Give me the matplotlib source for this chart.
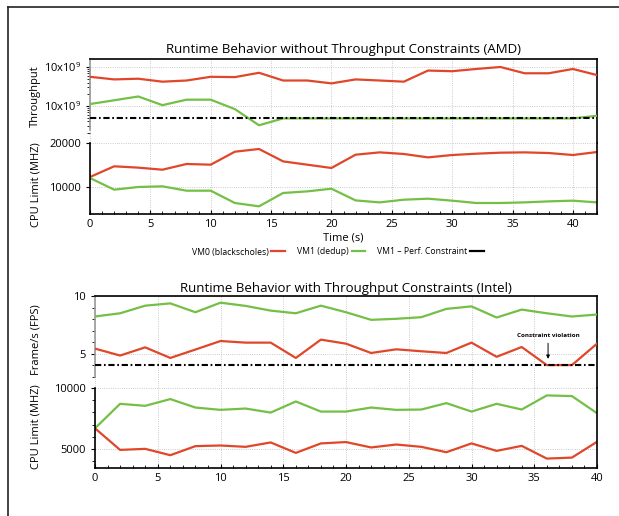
import numpy as np
import matplotlib
matplotlib.use("Agg")
import matplotlib.pyplot as plt
from matplotlib.lines import Line2D
from matplotlib.ticker import MultipleLocator, FixedLocator, LogLocator, NullFormatter

plt.rcParams['font.family'] = ['Open Sans', 'DejaVu Sans']
plt.rcParams['mathtext.fontset'] = 'custom'
plt.rcParams['mathtext.rm'] = 'Open Sans'

RED = '#e0472a'
GREEN = '#74bf45'

# ---------------- AMD data (every 2 s) ----------------
t_amd = list(range(0, 43, 2))
amd_tp_vm0 = [5.6e9, 4.8e9, 5.0e9, 4.2e9, 4.5e9, 5.6e9, 5.5e9, 7.1e9, 4.5e9, 4.5e9, 3.8e9,
              4.8e9, 4.5e9, 4.2e9, 8.1e9, 7.8e9, 8.9e9, 1.0e10, 6.9e9, 6.9e9, 8.9e9, 6.2e9]
amd_tp_vm1 = [1.12e9, 1.4e9, 1.75e9, 1.05e9, 1.45e9, 1.45e9, 8.3e8, 3.2e8, 4.8e8, 4.8e8, 4.8e8,
              4.8e8, 4.8e8, 4.8e8, 4.8e8, 4.8e8, 4.8e8, 4.8e8, 4.8e8, 4.8e8, 4.8e8, 5.6e8]
amd_tp_constraint = 4.8e8
amd_cpu_vm0 = [12270, 14700, 14400, 13930, 15230, 15070, 18020, 18640, 15820, 15070, 14320,
               17340, 17870, 17500, 16730, 17270, 17570, 17800, 17870, 17720, 17270, 17950]
amd_cpu_vm1 = [12040, 9390, 10000, 10150, 9160, 9160, 6360, 5600, 8640, 9000, 9610,
               6950, 6500, 7110, 7340, 6890, 6360, 6360, 6500, 6730, 6890, 6500]

# ---------------- Intel data (every 2 s) ----------------
t_intel = list(range(0, 41, 2))
intel_fps_vm0 = [5.43, 4.83, 5.54, 4.62, 5.35, 6.09, 5.95, 5.95, 4.62, 6.21, 5.86,
                 5.05, 5.37, 5.2, 5.05, 5.95, 4.72, 5.57, 4.0, 4.0, 5.86]
intel_fps_vm1 = [8.22, 8.5, 9.16, 9.36, 8.59, 9.42, 9.14, 8.73, 8.5, 9.16, 8.59,
                 7.93, 8.02, 8.16, 8.88, 9.1, 8.13, 8.82, 8.5, 8.22, 8.39]
intel_fps_constraint = 4.0
intel_cpu_vm0 = [6705, 4940, 5025, 4506, 5247, 5300, 5190, 5550, 4695, 5470, 5580,
                 5140, 5380, 5190, 4750, 5470, 4860, 5270, 4230, 4310, 5600]
intel_cpu_vm1 = [6705, 8707, 8542, 9094, 8402, 8213, 8320, 7990, 8900, 8073, 8073,
                 8402, 8213, 8240, 8764, 8073, 8707, 8240, 9394, 9340, 7940]

W, H = 619, 516
fig = plt.figure(figsize=(W / 100, H / 100), dpi=100)


def box(l, t, r, b):
    return [l / W, 1 - b / H, (r - l) / W, (b - t) / H]


def style(ax, top_panel):
    ax.grid(True, ls=':', lw=0.6, color='#bbbbbb')
    ax.tick_params(labelsize=8, length=3, width=0.8)
    ax.tick_params(axis='x', which='both', direction='in')
    ax.tick_params(axis='y', which='minor', length=2)
    for s in ['left', 'right', 'top', 'bottom']:
        ax.spines[s].set_linewidth(1.2)
    if top_panel:
        ax.spines['bottom'].set_visible(False)
        ax.tick_params(axis='x', which='both', bottom=False, labelbottom=False)
    else:
        ax.spines['top'].set_visible(False)
        ax.xaxis.set_minor_locator(MultipleLocator(1))
        ax.xaxis.set_major_locator(MultipleLocator(5))
        ax.tick_params(axis='x', which='minor', length=2)


dashdot = (0, (3, 1.3, 0.8, 1.3))

# ---------------- AMD: throughput ----------------
ax1 = fig.add_axes(box(90, 59, 597, 143))
ax1.plot(t_amd, amd_tp_vm1, color=GREEN, lw=1.6, zorder=3)
ax1.plot(t_amd, amd_tp_vm0, color=RED, lw=1.6, zorder=3)
ax1.axhline(amd_tp_constraint, color='black', lw=1.5, ls=dashdot, zorder=4)
ax1.set_yscale('log')
ax1.set_ylim(10 ** 8.05, 10 ** 10.205)
ax1.set_xlim(0, 42)
ax1.yaxis.set_major_locator(FixedLocator([1e9, 1e10]))
ax1.yaxis.set_major_formatter(plt.FuncFormatter(lambda v, p: r'$\mathregular{10x10^9}$'))
ax1.yaxis.set_minor_locator(LogLocator(base=10, subs=np.arange(2, 10)))
ax1.yaxis.set_minor_formatter(NullFormatter())
ax1.xaxis.set_major_locator(MultipleLocator(5))
style(ax1, True)
ax1.spines['left'].set_bounds(10 ** 8.385, 10 ** 10.205)
ax1.spines['left'].set_color('#999999')
ax1.set_title('Runtime Behavior without Throughput Constraints (AMD)', fontsize=9.5,
              fontweight='medium', pad=4)
ax1.set_ylabel('Throughput', fontsize=8)
ax1.yaxis.set_label_coords(-0.096, 0.56)

# ---------------- AMD: CPU limit ----------------
ax2 = fig.add_axes(box(90, 143, 597, 214))
ax2.plot(t_amd, amd_cpu_vm0, color=RED, lw=1.6, label='VM0 (blackscholes)')
ax2.plot(t_amd, amd_cpu_vm1, color=GREEN, lw=1.6, label='VM1 (dedup)')
ax2.plot([], [], color='black', lw=1.6, label='VM1 \u2013 Perf. Constraint')
ax2.set_xlim(0, 42)
ax2.set_ylim(3860, 20000)
ax2.yaxis.set_major_locator(FixedLocator([10000, 20000]))
style(ax2, False)
ax2.set_ylabel('CPU Limit (MHZ)', fontsize=8)
ax2.yaxis.set_label_coords(-0.096, 0.42)
ax2.set_xlabel('Time (s)', fontsize=8, labelpad=2)
ax2.legend(loc='center', bbox_to_anchor=(338 / W, 1 - 252 / H), bbox_transform=fig.transFigure,
           ncol=3, frameon=False, markerfirst=False, fontsize=6.2, handlelength=1.6,
           handletextpad=0.3, columnspacing=1.4)

# ---------------- Intel: FPS ----------------
ax3 = fig.add_axes(box(95, 296, 597, 388))
ax3.plot(t_intel, intel_fps_vm1, color=GREEN, lw=1.6, zorder=3)
ax3.plot(t_intel, intel_fps_vm0, color=RED, lw=1.6, zorder=3)
ax3.axhline(intel_fps_constraint, color='black', lw=1.5, ls=dashdot, zorder=4)
ax3.set_xlim(0, 40)
ax3.set_ylim(2.01, 10)
ax3.yaxis.set_major_locator(FixedLocator([5, 10]))
ax3.yaxis.set_minor_locator(FixedLocator([3, 4, 6, 7, 8, 9]))
ax3.xaxis.set_major_locator(MultipleLocator(5))
style(ax3, True)
ax3.spines['left'].set_bounds(3, 10)
ax3.spines['left'].set_color('#999999')
ax3.set_title('Runtime Behavior with Throughput Constraints (Intel)', fontsize=9.5,
              fontweight='medium', pad=3)
ax3.set_ylabel('Frame/s (FPS)', fontsize=8)
ax3.yaxis.set_label_coords(-0.106, 0.53)
ax3.annotate('Constraint violation', xy=(36.1, 4.3), xytext=(36.1, 6.6),
             fontsize=4.5, fontweight='bold', ha='center', va='center',
             arrowprops=dict(arrowstyle='-|>', color='black', lw=0.7, mutation_scale=5))

# ---------------- Intel: CPU limit ----------------
ax4 = fig.add_axes(box(95, 388, 597, 468))
ax4.plot(t_intel, intel_cpu_vm1, color=GREEN, lw=1.6)
ax4.plot(t_intel, intel_cpu_vm0, color=RED, lw=1.6)
ax4.set_xlim(0, 40)
ax4.set_ylim(3460, 10000)
ax4.yaxis.set_major_locator(FixedLocator([5000, 10000]))
ax4.yaxis.set_minor_locator(MultipleLocator(1000))
style(ax4, False)
ax4.set_ylabel('CPU Limit (MHZ)', fontsize=8)
ax4.yaxis.set_label_coords(-0.106, 0.52)

# page frame (top and left edge)
fig.add_artist(Line2D([8 / W, 8 / W], [0, 1 - 7 / H], color='#222222', lw=1.2))
fig.add_artist(Line2D([8 / W, 1], [1 - 7 / H, 1 - 7 / H], color='#222222', lw=1.2))

fig.savefig('out.png', dpi=100)
